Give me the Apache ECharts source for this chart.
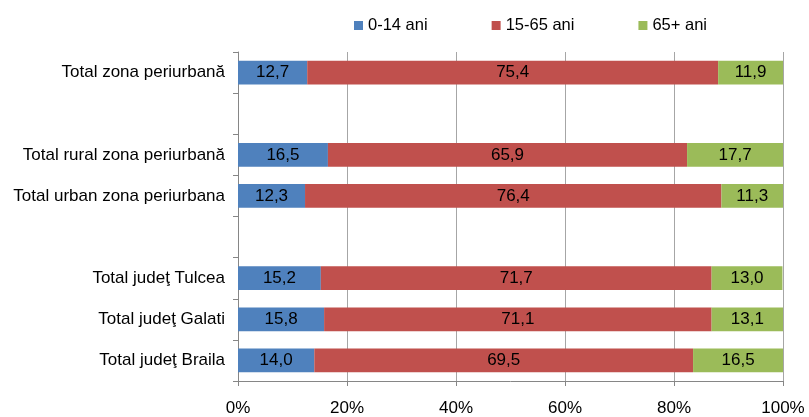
<!DOCTYPE html>
<html>
<head>
<meta charset="utf-8">
<script src="https://cdn.jsdelivr.net/npm/echarts@6/dist/echarts.min.js"></script>
<style>
  html, body { margin: 0; padding: 0; background: #fff; }
  #chart { width: 809px; height: 417px; }
</style>
</head>
<body>
<div id="chart"></div>
<script>
// rows top to bottom, '' = empty spacer row
const categories = [
  'Total zona periurbană',
  '',
  'Total rural zona periurbană',
  'Total urban zona periurbana',
  '',
  'Total judeţ Tulcea',
  'Total judeţ Galati',
  'Total judeţ Braila'
]
const seriesNames = ['0-14 ani', '15-65 ani', '65+ ani']
const age0_14 = [12.7, '-', 16.5, 12.3, '-', 15.2, 15.8, 14.0]
const age15_65 = [75.4, '-', 65.9, 76.4, '-', 71.7, 71.1, 69.5]
const age65plus = [11.9, '-', 17.7, 11.3, '-', 13.0, 13.1, 16.5]
const xTicks = [0, 20, 40, 60, 80, 100]

const colors = ['#4F81BD', '#C0504D', '#9BBB59']
const font = 'Liberation Sans, Arial, sans-serif'

function makeSeries(name, data, i) {
  return {
    name: name,
    type: 'bar',
    stack: 'total',
    data: data,
    barWidth: '58%',
    itemStyle: { color: colors[i] },
    label: {
      show: true,
      position: 'inside',
      color: '#000',
      fontFamily: font,
      fontSize: 17,
      formatter: (p) => p.value.toFixed(1).replace('.', ',')
    }
  }
}

const chart = echarts.init(document.getElementById('chart'))
chart.setOption({
  animation: false,
  color: colors,
  legend: {
    top: 12,
    left: 349,
    itemWidth: 9,
    itemHeight: 9,
    itemGap: 64,
    icon: 'rect',
    textStyle: { fontFamily: font, fontSize: 16.5, color: '#000' },
    data: seriesNames
  },
  grid: { left: 238, right: 26, top: 52, bottom: 35 },
  xAxis: {
    type: 'value',
    min: 0,
    max: 100,
    interval: 20,
    axisLine: { show: true, lineStyle: { color: '#868686' } },
    axisTick: { show: true, length: 5, lineStyle: { color: '#868686' } },
    axisLabel: {
      color: '#000',
      fontFamily: font,
      fontSize: 17,
      margin: 19,
      formatter: (v) => (xTicks.includes(v) ? v + '%' : '')
    },
    splitLine: { show: true, lineStyle: { color: '#a6a6a6' } }
  },
  yAxis: {
    type: 'category',
    inverse: true,
    data: categories,
    axisLine: { show: true, lineStyle: { color: '#868686' } },
    axisTick: { show: true, length: 5, lineStyle: { color: '#868686' } },
    axisLabel: { color: '#000', fontFamily: font, fontSize: 17, margin: 13 }
  },
  series: [
    makeSeries(seriesNames[0], age0_14, 0),
    makeSeries(seriesNames[1], age15_65, 1),
    makeSeries(seriesNames[2], age65plus, 2)
  ]
})
</script>
</body>
</html>
